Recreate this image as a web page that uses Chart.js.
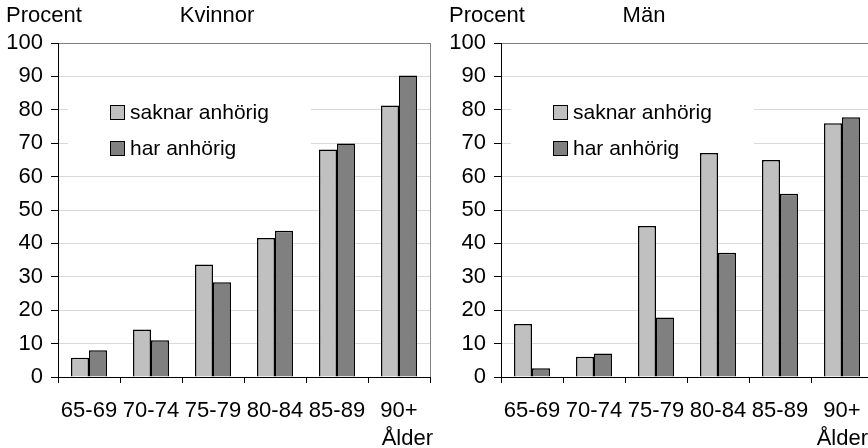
<!DOCTYPE html>
<html>
<head>
<meta charset="utf-8">
<script src="https://cdn.jsdelivr.net/npm/chart.js@4.4.0/dist/chart.umd.min.js"></script>
<style>
  html, body { margin: 0; padding: 0; background: #fff; }
  body { width: 868px; height: 448px; overflow: hidden; position: relative; }
  .panel { position: absolute; top: 0; width: 434px; height: 448px; }
</style>
</head>
<body>
<div class="panel" style="left:0"><canvas id="kvinnor-chart" width="434" height="448"></canvas></div>
<div class="panel" style="left:443px"><canvas id="man-chart" width="434" height="448"></canvas></div>
<script>
const ageGroups = ['65-69', '70-74', '75-79', '80-84', '85-89', '90+'];
const seriesNames = ['saknar anhörig', 'har anhörig'];
const kvinnorSaknar = [5.8, 14.2, 33.7, 41.6, 68.1, 81.3];
const kvinnorHar = [8.0, 11.0, 28.4, 43.8, 69.9, 90.3];
const manSaknar = [15.9, 6.1, 45.2, 67.1, 65.0, 76.0];
const manHar = [2.6, 7.0, 17.8, 37.2, 54.9, 77.8];

const FONT = "'Liberation Sans', Arial, sans-serif";
const barColors = ['#c0c0c0', '#808080'];

// Texter och legend ritas direkt på canvasen
const decorPlugin = {
  id: 'decor',
  beforeDatasetsDraw(chart, args, opts) {
    const ctx = chart.ctx;
    const area = chart.chartArea;
    ctx.save();
    // vit ruta bakom legenden
    ctx.fillStyle = '#fff';
    ctx.fillRect(area.left + 10, 88, 243, 76);
    ctx.font = '21px ' + FONT;
    ctx.textBaseline = 'middle';
    seriesNames.forEach((name, i) => {
      const y = 112 + i * 36;
      ctx.fillStyle = barColors[i];
      ctx.fillRect(area.left + 52, y - 7, 14, 14);
      ctx.strokeStyle = '#000';
      ctx.lineWidth = 1;
      ctx.strokeRect(area.left + 52.5, y - 6.5, 14, 14);
      ctx.fillStyle = '#000';
      ctx.fillText(name, area.left + 72, y + 1);
    });
    // höger ram
    ctx.strokeStyle = '#808080';
    ctx.beginPath();
    ctx.moveTo(area.right + 0.5, area.top);
    ctx.lineTo(area.right + 0.5, area.bottom);
    ctx.stroke();
    ctx.restore();
  },
  afterDraw(chart, args, opts) {
    const ctx = chart.ctx;
    ctx.save();
    ctx.font = '22px ' + FONT;
    ctx.fillStyle = '#000';
    ctx.textBaseline = 'middle';
    ctx.textAlign = 'left';
    ctx.fillText('Procent', opts.procentX, 16);
    ctx.textAlign = 'center';
    ctx.fillText(opts.title, opts.titleX, 16);
    ctx.textAlign = 'right';
    ctx.fillText('Ålder', opts.alderX, 439);
    ctx.restore();
  }
};

// Skapar ett stapeldiagram för en panel
function makeChart(canvasId, title, saknar, har, pos) {
  const ctx = document.getElementById(canvasId).getContext('2d');
  const config = {
    type: 'bar',
    data: {
      labels: ageGroups,
      datasets: [
        { label: seriesNames[0], data: saknar, backgroundColor: barColors[0], borderColor: '#000', borderWidth: 1.5 },
        { label: seriesNames[1], data: har, backgroundColor: barColors[1], borderColor: '#000', borderWidth: 1.5 }
      ]
    },
    options: {
      responsive: false,
      animation: false,
      categoryPercentage: 0.58,
      barPercentage: 1,
      layout: { padding: { top: 43, right: 4, left: 0, bottom: 0 } },
      plugins: {
        legend: { display: false },
        tooltip: { enabled: false },
        decor: { title: title, procentX: pos.procentX, titleX: pos.titleX, alderX: pos.alderX }
      },
      scales: {
        x: {
          offset: true,
          grid: { offset: true, drawOnChartArea: false, drawTicks: true, tickLength: 6, tickColor: '#000', tickWidth: 1 },
          border: { color: '#000', width: 1 },
          ticks: { color: '#000', font: { family: FONT, size: 22 }, padding: 15, maxRotation: 0, autoSkip: false },
          afterFit(s) { s.height = 71; }
        },
        y: {
          min: 0,
          max: 100,
          ticks: { stepSize: 10, color: '#000', font: { family: FONT, size: 22 }, padding: 8 },
          grid: {
            color: c => (c.tick && c.tick.value === 100 ? '#808080' : '#d9d9d9'),
            tickColor: '#000',
            tickLength: 7,
            lineWidth: 1
          },
          border: { color: '#000', width: 1 },
          afterFit(s) { s.width = 58; }
        }
      }
    },
    plugins: [decorPlugin]
  };
  return new Chart(ctx, config);
}

makeChart('kvinnor-chart', 'Kvinnor', kvinnorSaknar, kvinnorHar, { procentX: 6, titleX: 217, alderX: 433 });
makeChart('man-chart', 'Män', manSaknar, manHar, { procentX: 6, titleX: 201, alderX: 425 });
</script>
</body>
</html>
